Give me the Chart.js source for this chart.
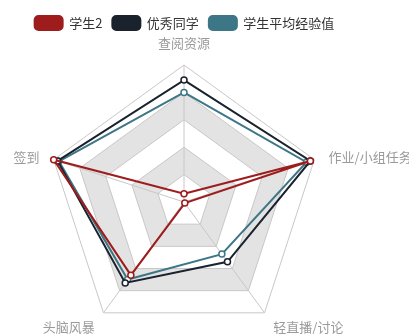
<!DOCTYPE html>
<html>
<head>
    <title>学生雷达图</title>
    <script src="https://cdn.jsdelivr.net/npm/chart.js@4.4.0/dist/chart.umd.min.js"></script>
    <style>
        html, body {
            margin: 0;
            padding: 0;
            background: #ffffff;
        }
        #wrap {
            width: 409px;
            height: 334px;
        }
    </style>
</head>
<body>
    <div id="wrap"><canvas id="radarChart"></canvas></div>

    <script>
        // indicators, clockwise from the top
        const indicators = ['查阅资源', '作业/小组任务', '轻直播/讨论', '头脑风暴', '签到'];

        const student2 = [6, 97, 1, 66, 100];
        const excellent = [89, 97, 54, 73, 97];
        const average = [80, 94, 47, 70, 96];

        const seriesNames = ['学生2', '优秀同学', '学生平均经验值'];
        const seriesColors = ['#9e1c1c', '#19222d', '#3d7686'];

        const FONT = '"Noto Sans CJK SC", "Noto Sans", sans-serif';

        // alternating ring fill, like the original split areas
        const splitAreaPlugin = {
            id: 'splitArea',
            beforeDraw(chart) {
                const scale = chart.scales.r;
                const ctx = chart.ctx;
                const n = indicators.length;
                const rings = 5;
                const colors = ['#ffffff', '#e3e3e3'];
                ctx.save();
                for (let k = rings; k >= 1; k--) {
                    ctx.beginPath();
                    for (let i = 0; i < n; i++) {
                        const p = scale.getPointPositionForValue(i, 100 * k / rings);
                        if (i === 0) ctx.moveTo(p.x, p.y); else ctx.lineTo(p.x, p.y);
                    }
                    ctx.closePath();
                    ctx.fillStyle = colors[(k - 1) % 2];
                    ctx.fill();
                }
                ctx.restore();
            }
        };

        // indicator names placed the way the original did it
        const nameLabelPlugin = {
            id: 'nameLabels',
            afterDraw(chart) {
                const scale = chart.scales.r;
                const ctx = chart.ctx;
                const gap = 15;
                ctx.save();
                ctx.font = '13px ' + FONT;
                ctx.fillStyle = '#9a9a9a';
                indicators.forEach((name, i) => {
                    const p = scale.getPointPosition(i, scale.drawingArea + gap);
                    const dx = (p.x - scale.xCenter) / (scale.drawingArea + gap);
                    const dy = (p.y - scale.yCenter) / (scale.drawingArea + gap);
                    ctx.textAlign = Math.abs(dx) < 0.01 ? 'center' : (dx > 0 ? 'left' : 'right');
                    ctx.textBaseline = dy < -0.9 ? 'bottom' : 'middle';
                    ctx.fillText(name, p.x, p.y + (dy < -0.9 ? 0 : 2));
                });
                ctx.restore();
            }
        };

        function makeSet(label, data, color) {
            return {
                label: label,
                data: data,
                borderColor: color,
                backgroundColor: color,
                borderWidth: 2,
                fill: false,
                pointRadius: 3,
                pointBorderWidth: 1.5,
                pointBackgroundColor: '#ffffff',
                pointBorderColor: color,
                tension: 0
            };
        }

        new Chart(document.getElementById('radarChart'), {
            type: 'radar',
            data: {
                labels: indicators,
                datasets: [
                    makeSet(seriesNames[0], student2, seriesColors[0]),
                    makeSet(seriesNames[1], excellent, seriesColors[1]),
                    makeSet(seriesNames[2], average, seriesColors[2])
                ]
            },
            options: {
                responsive: true,
                maintainAspectRatio: false,
                animation: false,
                layout: {
                    padding: { top: 6, right: 40, left: 0, bottom: 0 }
                },
                plugins: {
                    tooltip: { enabled: false },
                    legend: {
                        position: 'top',
                        fullSize: false,
                        labels: {
                            boxWidth: 28,
                            boxHeight: 14,
                            useBorderRadius: true,
                            borderRadius: 4,
                            padding: 10,
                            color: '#333333',
                            font: { family: FONT, size: 13 }
                        }
                    }
                },
                scales: {
                    r: {
                        min: 0,
                        max: 100,
                        ticks: { display: false, stepSize: 20 },
                        pointLabels: { display: false },
                        grid: { color: '#c8c8c8', lineWidth: 1 },
                        angleLines: { color: '#c8c8c8', lineWidth: 1 },
                        afterFit(scale) {
                            // centre and radius of the original radar
                            scale.xCenter = 184;
                            scale.yCenter = 202;
                            scale.drawingArea = 137;
                        }
                    }
                }
            },
            plugins: [splitAreaPlugin, nameLabelPlugin]
        });
    </script>
</body>
</html>
